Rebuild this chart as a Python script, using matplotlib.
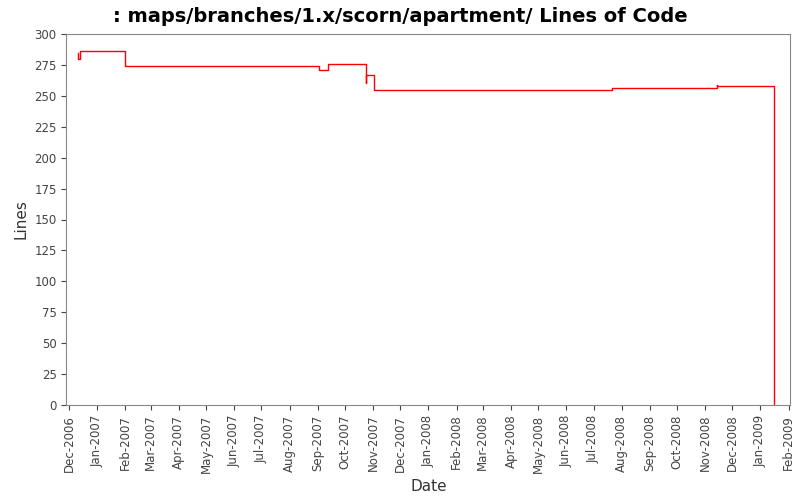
import matplotlib
matplotlib.use("Agg")
import matplotlib.pyplot as plt
import matplotlib.dates as mdates
import pandas as pd

dates = ["2006-12-11", "2006-12-11", "2006-12-13", "2006-12-13", "2007-02-01",
         "2007-09-02", "2007-09-12", "2007-10-24", "2007-10-24", "2007-11-02",
         "2008-07-21", "2008-11-14", "2008-11-14", "2009-01-16", "2009-01-16"]
lines = [285, 280, 280, 286, 274,
         271, 276, 260, 267, 255,
         256, 259, 258, 258, 0]

x = pd.to_datetime(dates)

fig = plt.figure(figsize=(8, 5), dpi=100)
ax = fig.add_axes([0.083, 0.19, 0.905, 0.742])
ax.plot(x, lines, color="red", linewidth=1, drawstyle="steps-post")

ax.set_xlim(pd.Timestamp("2006-11-28"), pd.Timestamp("2009-02-03"))
ax.set_ylim(0, 300)
ax.set_yticks(range(0, 301, 25))
ax.xaxis.set_major_locator(mdates.MonthLocator())
ax.xaxis.set_major_formatter(mdates.DateFormatter("%b-%Y"))
plt.setp(ax.get_xticklabels(), rotation=90)
ax.tick_params(labelsize=8.5, colors="#444444")
for s in ax.spines.values():
    s.set_color("#888888")

ax.set_xlabel("Date", fontsize=11, color="#333333")
ax.set_ylabel("Lines", fontsize=11, color="#333333")
fig.suptitle(": maps/branches/1.x/scorn/apartment/ Lines of Code", fontsize=14,
             fontweight="bold", y=0.985)

fig.savefig("out.png", dpi=100)
